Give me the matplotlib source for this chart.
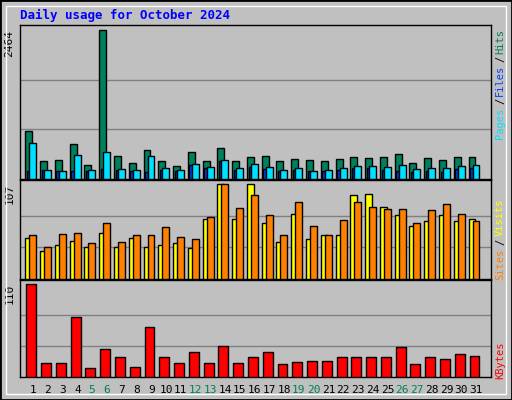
import numpy as np
import matplotlib.pyplot as plt
from matplotlib.patches import Rectangle

days = list(range(1, 32))
weekends = [5, 6, 12, 13, 19, 20, 26, 27]

hits = [792, 290, 307, 574, 240, 2464, 374, 273, 474, 290, 223, 440, 290, 507, 290, 357,
        374, 290, 323, 307, 290, 323, 357, 340, 357, 407, 273, 340, 307, 357, 357]
pages = [591, 156, 139, 390, 156, 440, 173, 156, 374, 190, 156, 256, 206, 307, 190, 256,
         206, 156, 190, 139, 156, 190, 223, 223, 206, 240, 173, 190, 190, 223, 240]
files = [139, 156, 139, 139, 139, 173, 156, 139, 120, 156, 139, 240, 190, 290, 156, 206,
         173, 139, 156, 139, 139, 156, 190, 190, 156, 139, 120, 139, 120, 173, 190]
visits = [46, 32, 38, 43, 36, 52, 36, 46, 36, 38, 40, 35, 67, 107, 68, 107,
          63, 42, 73, 45, 50, 50, 94, 95, 81, 72, 60, 65, 72, 65, 67]
sites = [50, 36, 51, 52, 40, 63, 42, 50, 50, 58, 47, 45, 70, 107, 80, 94,
         72, 50, 87, 60, 50, 66, 86, 81, 79, 79, 63, 77, 84, 73, 65]
kbytes = [110, 16, 16, 71, 11, 33, 23, 12, 59, 23, 17, 30, 16, 36, 17, 23,
          29, 15, 18, 19, 19, 24, 24, 23, 23, 35, 15, 23, 21, 27, 25]

BG = '#c0c0c0'
MONO = 'DejaVu Sans Mono'
W, H = 512, 400

fig = plt.figure(figsize=(W / 100, H / 100), dpi=100, facecolor=BG)

# outer frame
fig.patches.append(Rectangle((0, 0), 1, 1, transform=fig.transFigure, fill=False,
                             edgecolor='black', linewidth=2))
fig.patches.append(Rectangle((6 / W, 6 / H), (W - 12) / W, (H - 12) / H, transform=fig.transFigure,
                             fill=False, edgecolor='white', linewidth=1))

fig.text(20 / W, 1 - 15 / H, 'Daily usage for October 2024', color='#0000ff',
         family=MONO, weight='bold', fontsize=9, va='center')


def panel(top, bottom):
    ax = fig.add_axes([20 / W, 1 - bottom / H, 471 / W, (bottom - top) / H])
    ax.set_facecolor(BG)
    ax.set_xlim(0.12, 32.0)
    ax.set_xticks([])
    ax.set_yticks([])
    for s in ax.spines.values():
        s.set_color('black')
        s.set_linewidth(1)
    return ax


def grid(ax, vmax):
    for f in (1 / 3, 2 / 3):
        ax.axhline(vmax * f, color='#808080', linewidth=1, zorder=1)
    ax.text(-0.012, vmax, str(vmax), transform=ax.get_yaxis_transform(), rotation=90,
            ha='right', va='top', family=MONO, fontsize=8)


x = np.array(days)
kw = dict(edgecolor='black', linewidth=1, align='edge', zorder=3)

# top panel: hits / pages / files
ax1 = panel(25, 179)
ax1.set_ylim(0, 2464 * 1.035)
grid(ax1, 2464)
ax1.bar(x - 0.52, hits, width=0.47, color='#00805c', **kw)
ax1.bar(x - 0.41, files, width=0.16, color='#0040ff', **kw)
ax1.bar(x - 0.25, pages, width=0.47, color='#00e0ff', **kw)

# middle panel: visits / sites
ax2 = panel(180, 279)
ax2.set_ylim(0, 107 * 1.04)
grid(ax2, 107)
ax2.bar(x - 0.52, visits, width=0.47, color='#ffff00', **kw)
ax2.bar(x - 0.25, sites, width=0.47, color='#ff8000', **kw)

# bottom panel: kbytes
ax3 = panel(280, 377)
ax3.set_ylim(0, 110 * 1.04)
grid(ax3, 110)
ax3.bar(x - 0.45, kbytes, width=0.67, color='#ff0000', **kw)

for d in days:
    ax3.text(d, -0.13, str(d), transform=ax3.get_xaxis_transform(), ha='center', va='center',
             family=MONO, fontsize=8, color='#00805c' if d in weekends else 'black')

# right side legends
legend = [('Pages', '#00e0ff', 123), ('/', 'black', 101), ('Files', '#0040ff', 80),
          ('/', 'black', 59), ('Hits', '#00805c', 41),
          ('Sites', '#ff8000', 264), ('/', 'black', 242), ('Visits', '#ffff00', 217),
          ('KBytes', '#ff0000', 360)]
for label, color, yy in legend:
    fig.text(500 / W, 1 - yy / H, label, color=color, rotation=90, ha='center', va='center',
             family=MONO, fontsize=7.5)

fig.savefig('out.png', dpi=100, facecolor=BG)
